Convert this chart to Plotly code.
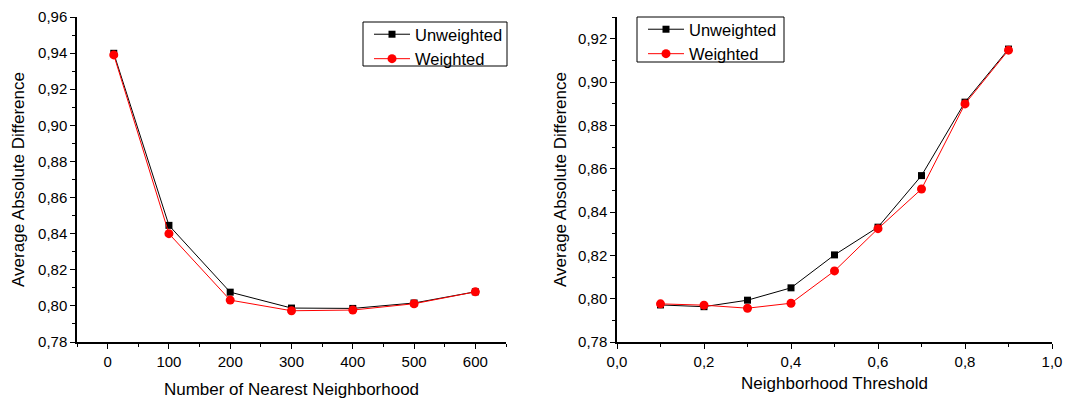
import plotly.graph_objects as go

# Left panel: number of nearest neighbours
k_values = [10, 100, 200, 300, 400, 500, 600]
k_unweighted = [0.9399, 0.8446, 0.8076, 0.7988, 0.7986, 0.8016, 0.8078]
k_weighted = [0.9390, 0.8400, 0.8032, 0.7973, 0.7977, 0.8012, 0.8078]

# Right panel: neighbourhood similarity threshold
thresholds = [0.1, 0.2, 0.3, 0.4, 0.5, 0.6, 0.7, 0.8, 0.9]
t_unweighted = [0.7971, 0.7963, 0.7993, 0.8050, 0.8202, 0.8330, 0.8568, 0.8907, 0.9152]
t_weighted = [0.7976, 0.7970, 0.7956, 0.7979, 0.8128, 0.8323, 0.8506, 0.8899, 0.9147]

series_names = ["Unweighted", "Weighted"]
y_title = "Average Absolute Difference"
x_title_left = "Number of Nearest Neighborhood"
x_title_right = "Neighborhood Threshold"

FONT = "Liberation Sans, Arial, sans-serif"
W, H = 1071, 399

fig = go.Figure()

def add_pair(x, yu, yw, xa, ya, legend):
    fig.add_trace(go.Scatter(
        x=x, y=yu, name=series_names[0], mode="lines+markers",
        line=dict(color="black", width=1),
        marker=dict(symbol="square", size=7, color="black"),
        xaxis=xa, yaxis=ya, legend=legend))
    fig.add_trace(go.Scatter(
        x=x, y=yw, name=series_names[1], mode="lines+markers",
        line=dict(color="#ff0000", width=1),
        marker=dict(symbol="circle", size=9, color="#ff0000"),
        xaxis=xa, yaxis=ya, legend=legend))

add_pair(k_values, k_unweighted, k_weighted, "x", "y", "legend")
add_pair(thresholds, t_unweighted, t_weighted, "x2", "y2", "legend2")

axis_common = dict(
    showline=True, linecolor="black", linewidth=1.5,
    showgrid=False, zeroline=False, automargin=False,
    ticks="outside", ticklen=5, tickwidth=1.2, tickcolor="black",
    tickfont=dict(family=FONT, size=15, color="black"),
    title_font=dict(family=FONT, size=17, color="black"),
)
minor_common = dict(ticks="outside", ticklen=3, tickwidth=1.2, tickcolor="black", showgrid=False)

y_bottom = 1 - 342 / H
y_top = 1 - 17 / H

legend_style = dict(
    xanchor="left", yanchor="top",
    bgcolor="rgba(0,0,0,0)", borderwidth=0,
    font=dict(family=FONT, size=16.5, color="black"),
    tracegroupgap=0, itemwidth=36,
)

# white framed boxes behind the two legends
legend_boxes = [(363, 22, 507, 66), (637, 17, 784, 62)]
shapes = [
    dict(type="rect", xref="paper", yref="paper",
         x0=x0 / W, x1=x1 / W, y0=1 - y1 / H, y1=1 - y0 / H,
         line=dict(color="black", width=1), fillcolor="white", layer="above")
    for x0, y0, x1, y1 in legend_boxes
]

fig.update_layout(
    width=W, height=H,
    margin=dict(l=0, r=0, t=0, b=0, pad=0, autoexpand=False),
    paper_bgcolor="white", plot_bgcolor="white",
    separators=",.",
    font=dict(family=FONT, color="black"),
    showlegend=True,
    shapes=shapes,
    xaxis=dict(**axis_common, domain=[77 / W, 506 / W], range=[-50, 650],
               tick0=0, dtick=100, minor=dict(**minor_common, dtick=50),
               title=dict(text=x_title_left, standoff=19), anchor="y"),
    yaxis=dict(**axis_common, domain=[y_bottom, y_top], range=[0.78, 0.96],
               tick0=0.78, dtick=0.02, tickformat=".2f",
               minor=dict(**minor_common, dtick=0.01),
               title=dict(text=y_title, standoff=9), anchor="x"),
    xaxis2=dict(**axis_common, domain=[617 / W, 1052 / W], range=[0, 1],
                tick0=0, dtick=0.2, tickformat=".1f",
                minor=dict(**minor_common, dtick=0.1),
                title=dict(text=x_title_right, standoff=8), anchor="y2"),
    yaxis2=dict(**axis_common, domain=[y_bottom, y_top], range=[0.78, 0.93],
                tick0=0.78, dtick=0.02, tickformat=".2f",
                minor=dict(**minor_common, dtick=0.01),
                title=dict(text=y_title, standoff=7), anchor="x2"),
    legend=dict(x=369 / W, y=1 - 17 / H, **legend_style),
    legend2=dict(x=643 / W, y=1 - 12 / H, **legend_style),
)

fig.write_html("out.html")
